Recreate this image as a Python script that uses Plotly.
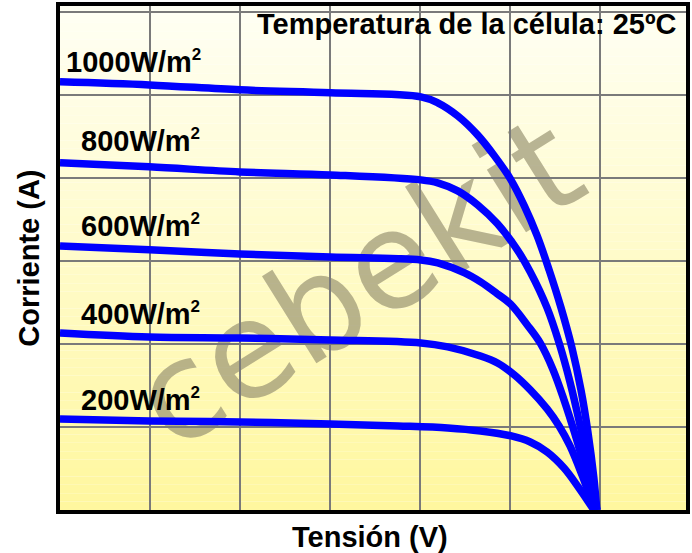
import plotly.graph_objects as go

# ---- data (grid units) ----
irradiance_labels = ["1000W/m", "800W/m", "600W/m", "400W/m", "200W/m"]

v_1000 = [0, 0.993, 1.998, 3.002, 4.007, 4.194, 4.415, 4.636, 4.823, 5.000, 5.155, 5.298, 5.430, 5.563, 5.684, 5.784, 5.861, 5.927, 5.960]
i_1000 = [5.157, 5.120, 5.060, 5.024, 4.976, 4.904, 4.747, 4.518, 4.265, 3.988, 3.663, 3.301, 2.892, 2.434, 1.952, 1.446, 0.940, 0.386, 0]

v_800 = [0, 0.993, 1.998, 3.002, 4.007, 4.194, 4.415, 4.636, 4.857, 5.077, 5.221, 5.408, 5.541, 5.662, 5.773, 5.872, 5.960]
i_800 = [4.181, 4.133, 4.072, 4.036, 3.976, 3.940, 3.843, 3.675, 3.446, 3.133, 2.867, 2.434, 2.012, 1.542, 1.024, 0.506, 0]

v_600 = [0, 0.993, 1.998, 3.002, 4.007, 4.194, 4.492, 4.669, 4.857, 5.000, 5.188, 5.331, 5.475, 5.596, 5.717, 5.839, 5.960]
i_600 = [3.181, 3.133, 3.084, 3.048, 3.012, 2.976, 2.855, 2.747, 2.602, 2.482, 2.229, 2.012, 1.687, 1.325, 0.916, 0.458, 0]

v_400 = [0, 0.993, 1.998, 3.002, 4.007, 4.305, 4.669, 4.857, 5.044, 5.221, 5.408, 5.541, 5.662, 5.795, 5.938]
i_400 = [2.133, 2.084, 2.072, 2.048, 2.012, 1.964, 1.855, 1.771, 1.627, 1.446, 1.217, 1.012, 0.771, 0.422, 0]

v_200 = [0, 0.993, 1.998, 3.002, 3.753, 4.305, 4.669, 5.011, 5.221, 5.408, 5.596, 5.762, 5.927]
i_200 = [1.096, 1.072, 1.060, 1.036, 1.012, 0.988, 0.952, 0.892, 0.819, 0.699, 0.506, 0.265, 0]

title_text = "Temperatura de la célula: 25ºC"
x_title = "Tensión (V)"
y_title = "Corriente (A)"
watermark = "cebekit"

series = [(v_1000, i_1000), (v_800, i_800), (v_600, i_600), (v_400, i_400), (v_200, i_200)]

FONT = "Liberation Sans, Arial, sans-serif"
WM_FONT = "DejaVu Sans, Liberation Sans, sans-serif"
FS = 29

fig = go.Figure()
for (v, i) in series:
    fig.add_trace(go.Scatter(x=v, y=i, mode="lines",
                             line=dict(color="#0000FF", width=7.5, shape="spline", smoothing=1.0),
                             hoverinfo="skip", showlegend=False))

# gradient background bands
shapes = []
n = 60
top = (255, 255, 244)
bot = (255, 247, 158)
for k in range(n):
    t = (k + 0.5) / n
    c = tuple(round(top[j] + (bot[j] - top[j]) * t) for j in range(3))
    shapes.append(dict(type="rect", xref="paper", yref="paper",
                       x0=0, x1=1, y0=1 - (k + 1) / n, y1=1 - k / n,
                       fillcolor="rgb(%d,%d,%d)" % c, line=dict(width=0), layer="below"))
# watermark (label of an invisible rectangle, drawn beneath the curves)
shapes.append(dict(type="rect", xref="paper", yref="paper", x0=0.367, x1=0.567, y0=0.368, y1=0.568,
                   line=dict(width=0), fillcolor="rgba(0,0,0,0)", layer="below",
                   label=dict(text=watermark, textangle=-32, textposition="middle center",
                              font=dict(family=WM_FONT, size=135, color="rgba(150,145,112,0.68)"))))

ann = []
label_pos = [(0.045, 5.40), (0.215, 4.45), (0.215, 3.43), (0.215, 2.37), (0.215, 1.33)]
for txt, (x, y) in zip(irradiance_labels, label_pos):
    ann.append(dict(x=x, y=y, xref="x", yref="y",
                    text="<b>" + txt + "<sup><span style='font-size:17px'>2</span></sup></b>",
                    showarrow=False, xanchor="left", yanchor="middle",
                    font=dict(family=FONT, size=FS, color="black")))
ann.append(dict(x=2.16, y=5.85, xref="x", yref="y", text="<b>" + title_text + "</b>", showarrow=False,
                xanchor="left", yanchor="middle", font=dict(family=FONT, size=FS, color="black")))
ann.append(dict(x=0.495, y=-0.054, xref="paper", yref="paper", text="<b>" + x_title + "</b>", showarrow=False,
                xanchor="center", yanchor="middle", font=dict(family=FONT, size=FS, color="black")))
ann.append(dict(x=-0.05, y=0.5, xref="paper", yref="paper", text="<b>" + y_title + "</b>", showarrow=False,
                textangle=-90, xanchor="center", yanchor="middle", font=dict(family=FONT, size=FS, color="black")))

axis_common = dict(showticklabels=False, ticks="", zeroline=False, showline=True, mirror=True,
                   linecolor="black", linewidth=4, showgrid=True, gridcolor="#7a7a7a", gridwidth=2,
                   dtick=1, tick0=0, fixedrange=True)

fig.update_layout(
    width=692, height=553,
    margin=dict(l=60, r=2, t=6, b=43),
    paper_bgcolor="white", plot_bgcolor="white",
    xaxis=dict(range=[0, 6.95], **axis_common),
    yaxis=dict(range=[0, 6.07], **axis_common),
    shapes=shapes, annotations=ann,
)
fig.write_html("out.html", config={"displayModeBar": False, "staticPlot": True},
               post_script="document.body.style.margin='0px';document.body.style.overflow='hidden';")
